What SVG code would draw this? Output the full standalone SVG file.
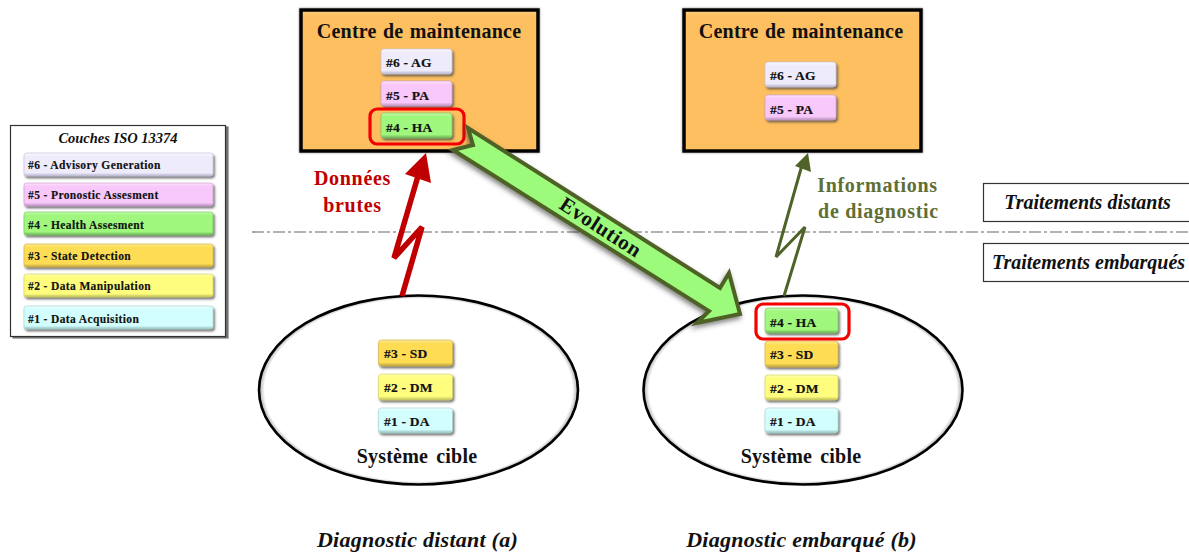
<svg xmlns="http://www.w3.org/2000/svg" width="1189" height="553" viewBox="0 0 1189 553">
<style>
text{font-family:"Liberation Serif","Times New Roman",serif;font-weight:bold;text-anchor:middle;fill:#111}
.t{font-size:20px;letter-spacing:.25px;word-spacing:1px}
.lab{font-size:20px;letter-spacing:.7px}
.s{font-size:20px;letter-spacing:.2px;word-spacing:3px}
.cap{font-size:22px;font-style:italic;letter-spacing:.25px}
.side{font-size:20px;font-style:italic}
.b{font-size:13.500px;text-anchor:start;letter-spacing:.2px;stroke:#111;stroke-width:.2}
.l{font-size:11.500px;text-anchor:start;letter-spacing:.38px;stroke:#111;stroke-width:.15}
.btn{stroke-width:.7;filter:url(#sh)}
.ag{fill:url(#gag);stroke:#c5c3da}.pa{fill:url(#gpa);stroke:#cba2cf}.ha{fill:url(#gha);stroke:#7cc960}
.sd{fill:url(#gsd);stroke:#d2b545}.dm{fill:url(#gdm);stroke:#d5d466}.da{fill:url(#gda);stroke:#a9d5d5}
.red{fill:none;stroke:#f40000;stroke-width:3.2}
.centre{fill:url(#gc);stroke:#000;stroke-width:3.5;filter:url(#lsh)}
.ell{fill:url(#ge);stroke:#000;stroke-width:2.6}
.sb{fill:#fff;stroke:#333;stroke-width:1.2}
</style>
<defs>
<linearGradient id="gag" x1="0" y1="0" x2="0" y2="1"><stop offset="0" stop-color="#fbfaff"/><stop offset=".14" stop-color="#eeecfb"/><stop offset=".86" stop-color="#eeecfb"/><stop offset="1" stop-color="#b5b3cc"/></linearGradient>
<linearGradient id="gpa" x1="0" y1="0" x2="0" y2="1"><stop offset="0" stop-color="#fde6fe"/><stop offset=".14" stop-color="#f8c8fa"/><stop offset=".86" stop-color="#f8c8fa"/><stop offset="1" stop-color="#b78ebb"/></linearGradient>
<linearGradient id="gha" x1="0" y1="0" x2="0" y2="1"><stop offset="0" stop-color="#c8fbb4"/><stop offset=".14" stop-color="#9ff77d"/><stop offset=".86" stop-color="#9ff77d"/><stop offset="1" stop-color="#6cae55"/></linearGradient>
<linearGradient id="gsd" x1="0" y1="0" x2="0" y2="1"><stop offset="0" stop-color="#ffeb95"/><stop offset=".14" stop-color="#fedd55"/><stop offset=".86" stop-color="#fedd55"/><stop offset="1" stop-color="#bca23d"/></linearGradient>
<linearGradient id="gdm" x1="0" y1="0" x2="0" y2="1"><stop offset="0" stop-color="#ffffb4"/><stop offset=".14" stop-color="#fefd7d"/><stop offset=".86" stop-color="#fefd7d"/><stop offset="1" stop-color="#bcbb58"/></linearGradient>
<linearGradient id="gda" x1="0" y1="0" x2="0" y2="1"><stop offset="0" stop-color="#ecffff"/><stop offset=".14" stop-color="#d2fefd"/><stop offset=".86" stop-color="#d2fefd"/><stop offset="1" stop-color="#93bcbc"/></linearGradient>
<linearGradient id="gc" x1="0" y1="0" x2="0" y2="1"><stop offset="0" stop-color="#fed08a"/><stop offset=".04" stop-color="#fdbf5f"/><stop offset="1" stop-color="#fdbf5f"/></linearGradient>
<radialGradient id="ge" cx=".5" cy=".5" r=".5"><stop offset="0" stop-color="#fff"/><stop offset=".965" stop-color="#fff"/><stop offset="1" stop-color="#aaa"/></radialGradient>
<filter id="sh" x="-15%" y="-25%" width="135%" height="160%"><feDropShadow dx="1.5" dy="2" stdDeviation="1.1" flood-color="#444" flood-opacity=".75"/></filter>
<filter id="lsh" x="-5%" y="-5%" width="110%" height="110%"><feDropShadow dx="0" dy="0" stdDeviation="1" flood-color="#555" flood-opacity=".7"/></filter>
<filter id="ash" x="-10%" y="-10%" width="120%" height="125%"><feDropShadow dx="-1" dy="3" stdDeviation="2.5" flood-color="#333" flood-opacity=".6"/></filter>
<filter id="lg" x="-5%" y="-5%" width="112%" height="112%"><feDropShadow dx="2.500" dy="1.500" stdDeviation="0.6" flood-color="#555" flood-opacity=".85"/></filter>
</defs>

<line x1="252" y1="232" x2="1189" y2="232" stroke="#666" stroke-width="1.2" stroke-dasharray="12 3 3 3"/>

<g id="legend">
<rect x="10.500" y="125.500" width="215" height="211" class="sb" style="filter:url(#lg)"/>
<text x="118" y="143" style="font-size:14.500px;font-style:italic">Couches ISO 13374</text>
<rect x="24" y="153" width="189" height="23" rx="2.500" class="btn ag"/><text x="28" y="169" class="l">#6 - Advisory Generation</text>
<rect x="24" y="183" width="189" height="23" rx="2.500" class="btn pa"/><text x="28" y="199" class="l">#5 - Pronostic Assesment</text>
<rect x="24" y="212" width="189" height="23" rx="2.500" class="btn ha"/><text x="28" y="229" class="l">#4 - Health Assesment</text>
<rect x="24" y="244" width="189" height="23" rx="2.500" class="btn sd"/><text x="28" y="260" class="l">#3 - State Detection</text>
<rect x="24" y="274" width="189" height="23" rx="2.500" class="btn dm"/><text x="28" y="290" class="l">#2 - Data Manipulation</text>
<rect x="24" y="306" width="189" height="23" rx="2.500" class="btn da"/><text x="28" y="323" class="l">#1 - Data Acquisition</text>
</g>

<g id="centre-a">
<rect x="301" y="10" width="237" height="141" class="centre"/>
<text x="419" y="38" class="t">Centre  de maintenance</text>
<rect x="381" y="49" width="71" height="25" rx="3" class="btn ag"/><text x="386" y="67" class="b">#6 - AG</text>
<rect x="381" y="81" width="71" height="25" rx="3" class="btn pa"/><text x="386" y="100" class="b">#5 - PA</text>
<rect x="381" y="113" width="71" height="25" rx="3" class="btn ha"/><text x="386" y="132" class="b">#4 - HA</text>
<rect x="370" y="109" width="94" height="35" rx="7" class="red"/>
</g>

<g id="centre-b">
<rect x="684" y="10" width="237" height="141" class="centre"/>
<text x="801" y="38" class="t">Centre  de maintenance</text>
<rect x="765" y="62" width="71" height="25" rx="3" class="btn ag"/><text x="770" y="80" class="b">#6 - AG</text>
<rect x="765" y="95" width="71" height="25" rx="3" class="btn pa"/><text x="770" y="114" class="b">#5 - PA</text>
</g>

<g id="systeme-a">
<ellipse cx="418.500" cy="390" rx="159.500" ry="94.500" class="ell"/>
<rect x="378.500" y="340" width="74" height="26" rx="3" class="btn sd"/><text x="384" y="358" class="b">#3 - SD</text>
<rect x="378.500" y="374" width="74" height="26" rx="3" class="btn dm"/><text x="384" y="392" class="b">#2 - DM</text>
<rect x="378.500" y="408" width="74" height="25" rx="3" class="btn da"/><text x="384" y="426" class="b">#1 - DA</text>
<text x="417" y="463" class="s">Système cible</text>
</g>

<g id="systeme-b">
<ellipse cx="803" cy="390" rx="159.500" ry="94.500" class="ell"/>
<rect x="765" y="308" width="73" height="25" rx="3" class="btn ha"/><text x="770" y="327" class="b">#4 - HA</text>
<rect x="765" y="341" width="73" height="26" rx="3" class="btn sd"/><text x="770" y="359" class="b">#3 - SD</text>
<rect x="765" y="375" width="73" height="25" rx="3" class="btn dm"/><text x="770" y="393" class="b">#2 - DM</text>
<rect x="765" y="408" width="73" height="25" rx="3" class="btn da"/><text x="770" y="426" class="b">#1 - DA</text>
<rect x="756" y="304" width="93" height="35" rx="7" class="red"/>
<text x="801" y="463" class="s">Système cible</text>
</g>

<g id="connectors">
<g id="evolution">
<polygon points="468,128 473,145 453,150 709,311 697,323 740,314 729,273 720,288" fill="#9dfb7c" stroke="#4f6228" stroke-width="4" stroke-linejoin="miter" style="filter:url(#ash)"/>
<text transform="translate(597,233) rotate(33)" style="font-size:21px;letter-spacing:.6px">Evolution</text>
</g>
<g id="donnees-brutes">
<polyline points="402,296 422,227 394,258 418,176" fill="none" stroke="#c00000" stroke-width="5.500" stroke-linejoin="miter"/>
<polygon points="426,153 405,174 431,183" fill="#c00000"/>
</g>
<g id="informations">
<polyline points="784,296 805,227 776,257 802,165" fill="none" stroke="#4f6228" stroke-width="3" stroke-linejoin="miter"/>
<polygon points="808,153 795,166 811,172" fill="#4f6228"/>
</g>
</g>

<g id="labels">
<text x="352.500" y="185" class="lab" style="fill:#c00000">Données</text>
<text x="352.500" y="212" class="lab" style="fill:#c00000">brutes</text>
<text x="877.500" y="192" class="lab" style="fill:#5f6f33">Informations</text>
<text x="878.500" y="218" class="lab" style="fill:#5f6f33">de diagnostic</text>
<text x="417.500" y="547" class="cap">Diagnostic distant (a)</text>
<text x="801.500" y="547" class="cap">Diagnostic embarqué (b)</text>
</g>

<g id="traitements-distants">
<rect x="983.500" y="183.500" width="210" height="38" class="sb"/>
<text x="1087.500" y="209" class="side">Traitements distants</text>
</g>
<g id="traitements-embarques">
<rect x="983.500" y="243.500" width="210" height="38" class="sb"/>
<text x="1088.500" y="269" class="side">Traitements embarqués</text>
</g>
</svg>
